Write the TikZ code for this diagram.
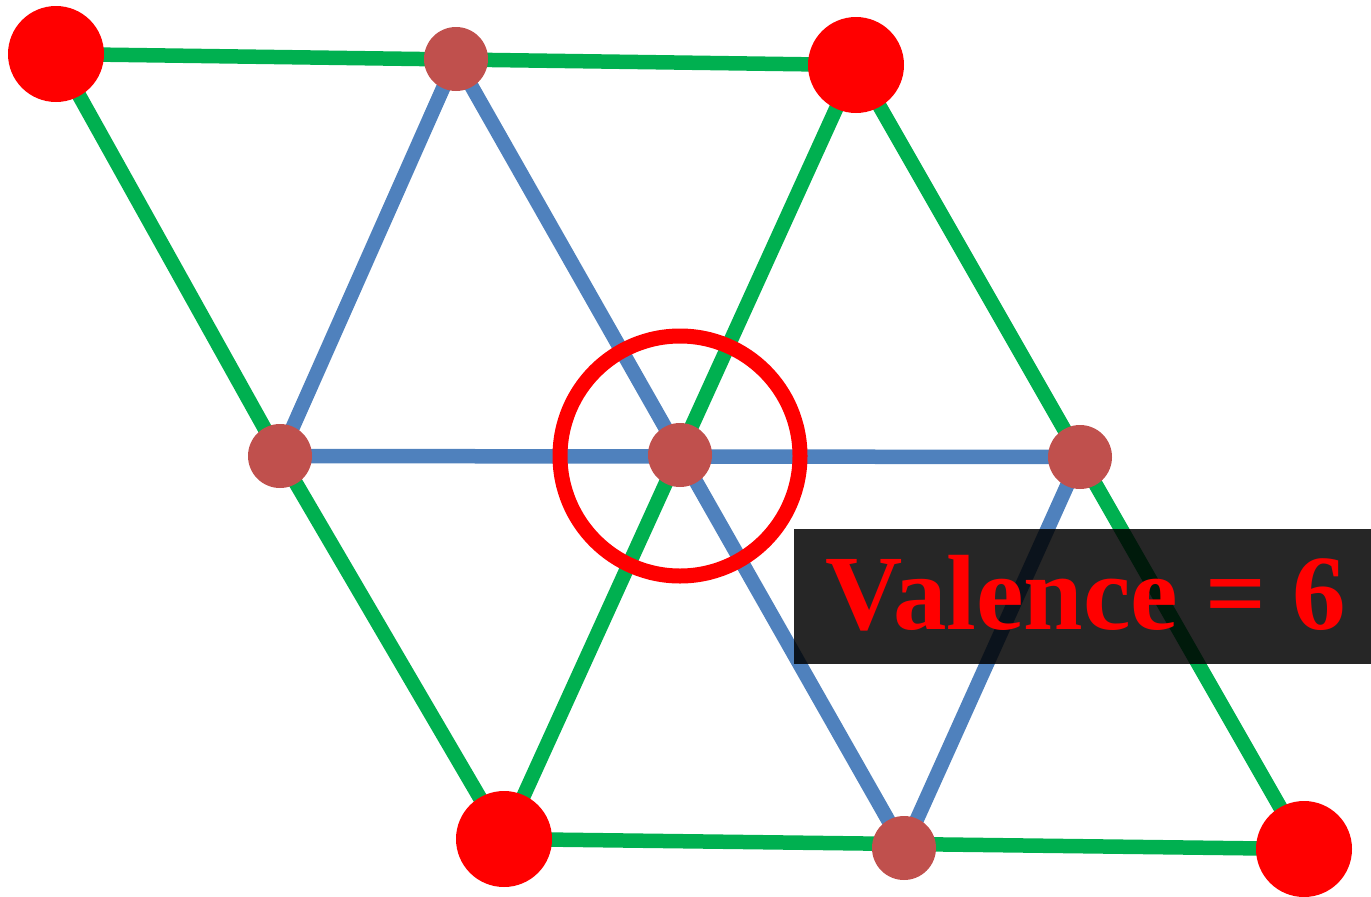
\documentclass[tikz,border=0pt]{standalone}
\usepackage{fontspec}
\newfontfamily\valfont{Liberation Serif}
\definecolor{egreen}{HTML}{00B050}
\definecolor{eblue}{HTML}{4F81BD}
\definecolor{vbrown}{HTML}{C0504D}
\begin{document}
\begin{tikzpicture}[x=1pt,y=-1pt,
  gedge/.style={draw=egreen,line width=14.5pt},
  bedge/.style={draw=eblue,line width=14.5pt},
  bigv/.style={circle,fill=red,minimum size=96pt,inner sep=0pt},
  smallv/.style={circle,fill=vbrown,minimum size=64pt,inner sep=0pt},
  ring/.style={circle,draw=red,line width=15pt,minimum size=240pt,inner sep=0pt}]
\useasboundingbox (0,0) rectangle (1371,897);
% vertex positions
\coordinate (A) at (56,54);
\coordinate (B) at (856,65);
\coordinate (C) at (504,839);
\coordinate (D) at (1304,849);
\coordinate (E) at (456,59);
\coordinate (F) at (280,456);
\coordinate (G) at (680,455);
\coordinate (H) at (1080,457);
\coordinate (I) at (904,848);
% green edges
\draw[gedge] (A) -- (B);
\draw[gedge] (A) -- (F) -- (C);
\draw[gedge] (C) -- (B);
\draw[gedge] (B) -- (H) -- (D);
\draw[gedge] (C) -- (D);
% blue edges
\draw[bedge] (E) -- (F);
\draw[bedge] (E) -- (I);
\draw[bedge] (F) -- (H);
\draw[bedge] (H) -- (I);
% vertices
\node[bigv] (nA) at (A) {};
\node[bigv] (nB) at (B) {};
\node[bigv] (nC) at (C) {};
\node[bigv] (nD) at (D) {};
\node[smallv] (nE) at (E) {};
\node[smallv] (nF) at (F) {};
\node[smallv] (nG) at (G) {};
\node[smallv] (nH) at (H) {};
\node[smallv] (nI) at (I) {};
% highlight ring
\node[ring] (ring) at (680,456) {};
% label box
\fill[black,opacity=0.85] (794,529) rectangle (1371,664);
\node[anchor=base,text=red,inner sep=0pt,font=\valfont\bfseries\fontsize{107}{112}\selectfont] (label) at (1086,629) {Valence = 6};
\end{tikzpicture}
\end{document}
